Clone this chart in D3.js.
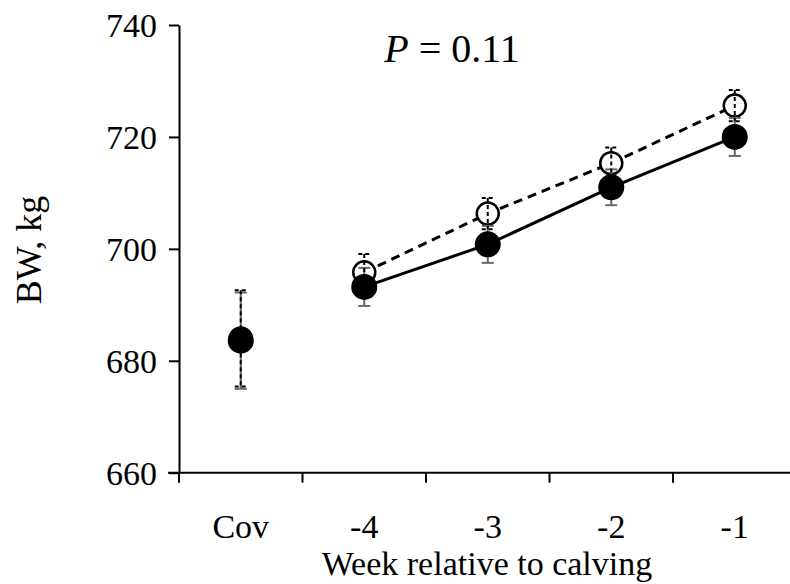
<!DOCTYPE html>
<html>
<head>
<meta charset="utf-8">
<script src="https://cdn.jsdelivr.net/npm/d3@7"></script>
<style>
  body { margin: 0; background: #fff; }
  svg { display: block; }
  text { font-family: "Liberation Serif", "Times New Roman", serif; fill: #000; }
</style>
</head>
<body>
<svg id="chart" width="790" height="584"></svg>
<script>
// Data
let weeks = ["Cov", "-4", "-3", "-2", "-1"];
let yTicks = [660, 680, 700, 720, 740];
// open circles, dashed line
let openMeans = [684.0, 695.8, 706.3, 715.3, 725.6];
let openSE = [8.6, 3.3, 2.8, 2.8, 2.8];
// filled circles, solid line
let filledMeans = [683.6, 693.2, 700.8, 711.0, 720.0];
let filledSE = [8.6, 3.4, 3.3, 3.2, 3.4];

let svg = d3.select("#chart");

let x = d3.scaleBand().domain(weeks).range([179, 796.5]).padding(0);
let y = d3.scaleLinear().domain([660, 740]).range([472.7, 25]);

let cx = d => x(d.week) + x.bandwidth() / 2;

function toRows(means, se) {
    return weeks.map((w, i) => ({ week: w, mean: means[i], se: se[i] }));
}
let openRows = toRows(openMeans, openSE);
let filledRows = toRows(filledMeans, filledSE);

// lines only join the weekly points, not the covariate
let line = d3.line().x(cx).y(d => y(d.mean));

// --- axes
let gy = svg.append("g").attr("transform", "translate(179,0)")
    .call(d3.axisLeft(y).tickValues(yTicks).tickSize(10).tickSizeOuter(0).tickPadding(12));
gy.select(".domain").attr("stroke", "#000").attr("stroke-width", 2);
gy.selectAll(".tick line").attr("stroke", "#000").attr("stroke-width", 2);
gy.selectAll(".tick text")
    .style("font-family", '"Liberation Serif", "Times New Roman", serif')
    .style("font-size", "34px")
    .attr("dy", "0.34em");

let gx = svg.append("g").attr("transform", "translate(0,472.7)");
gx.append("line")
    .attr("x1", 168).attr("x2", 796.5)
    .attr("stroke", "#000").attr("stroke-width", 2);
gx.selectAll(".xtick")
    .data(weeks)
    .enter().append("line")
    .attr("class", "xtick")
    .attr("x1", d => x(d)).attr("x2", d => x(d))
    .attr("y1", 0).attr("y2", 10)
    .attr("stroke", "#000").attr("stroke-width", 2);
gx.selectAll(".xlabel")
    .data(weeks)
    .enter().append("text")
    .attr("class", "xlabel")
    .attr("x", d => x(d) + x.bandwidth() / 2)
    .attr("y", 65)
    .attr("text-anchor", "middle")
    .style("font-size", "34px")
    .text(d => d);

// axis titles
svg.append("text")
    .attr("x", 487).attr("y", 575)
    .attr("text-anchor", "middle")
    .style("font-size", "34px")
    .text("Week relative to calving");

svg.append("text")
    .attr("transform", "translate(41,250) rotate(-90)")
    .attr("text-anchor", "middle")
    .style("font-size", "36px")
    .text("BW, kg");

// P value
let pText = svg.append("text")
    .attr("x", 452).attr("y", 62)
    .attr("text-anchor", "middle")
    .style("font-size", "40px");
pText.append("tspan").style("font-style", "italic").text("P");
pText.append("tspan").text(" = 0.11");

// --- open series: dashed line, white markers
svg.append("path")
    .datum(openRows.slice(1))
    .attr("d", line)
    .attr("fill", "none")
    .attr("stroke", "#000")
    .attr("stroke-width", 3)
    .attr("stroke-dasharray", "9,6");

svg.selectAll(".openDot")
    .data(openRows)
    .enter().append("circle")
    .attr("class", "openDot")
    .attr("cx", cx)
    .attr("cy", d => y(d.mean))
    .attr("r", 11)
    .attr("fill", "#fff")
    .attr("stroke", "#000")
    .attr("stroke-width", 2.5);

// error bars
function errorBars(rows, cls, color, dash) {
    let g = svg.selectAll("." + cls)
        .data(rows)
        .enter().append("g")
        .attr("class", cls);
    g.append("line")
        .attr("x1", cx).attr("x2", cx)
        .attr("y1", d => y(d.mean + d.se))
        .attr("y2", d => y(d.mean - d.se));
    g.append("line")
        .attr("x1", d => cx(d) - 6).attr("x2", d => cx(d) + 6)
        .attr("y1", d => y(d.mean + d.se)).attr("y2", d => y(d.mean + d.se));
    g.append("line")
        .attr("x1", d => cx(d) - 6).attr("x2", d => cx(d) + 6)
        .attr("y1", d => y(d.mean - d.se)).attr("y2", d => y(d.mean - d.se));
    g.selectAll("line")
        .attr("stroke", color)
        .attr("stroke-width", 2)
        .attr("stroke-dasharray", dash);
}
errorBars(filledRows, "filledErr", "#666", null);
errorBars(openRows, "openErr", "#000", "4,3");

// --- filled series: solid line, black markers
svg.append("path")
    .datum(filledRows.slice(1))
    .attr("d", line)
    .attr("fill", "none")
    .attr("stroke", "#000")
    .attr("stroke-width", 3);

svg.selectAll(".filledDot")
    .data(filledRows)
    .enter().append("circle")
    .attr("class", "filledDot")
    .attr("cx", cx)
    .attr("cy", d => y(d.mean))
    .attr("r", 13)
    .attr("fill", "#000");
</script>
</body>
</html>
